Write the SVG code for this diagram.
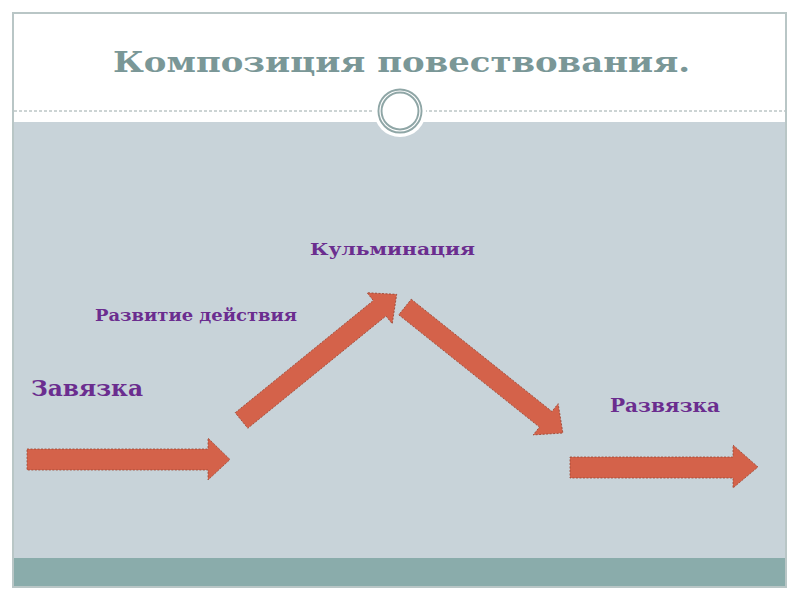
<svg xmlns="http://www.w3.org/2000/svg" width="800" height="600" viewBox="0 0 800 600">
<defs>
<style>
.lbl{font-family:"DejaVu Serif","Liberation Serif",serif;font-weight:bold;fill:#6b2d8f}
.title{font-family:"DejaVu Serif","Liberation Serif",serif;font-weight:bold;fill:#7a9797;font-size:28px}
.arrow{fill:#d4624a;stroke:#9c4634;stroke-width:0.8;stroke-dasharray:2 1.5}
</style>
</defs>
<rect width="800" height="600" fill="#ffffff"/>
<rect x="13" y="122" width="773" height="436" fill="#c8d3d9"/>
<rect x="13" y="558" width="773" height="29" fill="#8aacab"/>
<rect x="13" y="13" width="773" height="574" fill="none" stroke="#b9c6c6" stroke-width="2"/>
<line x1="14" y1="111" x2="785" y2="111" stroke="#9aa9a9" stroke-width="1" stroke-dasharray="3 2"/>
<circle cx="400" cy="111" r="26" fill="#ffffff"/>
<circle cx="400" cy="111" r="20" fill="#ffffff" stroke="#8fa6a6" stroke-width="5"/>
<circle cx="400" cy="111" r="20" fill="none" stroke="#ffffff" stroke-width="1.2"/>
<g id="title"><text class="title" x="113" y="72" textLength="577" lengthAdjust="spacingAndGlyphs">Композиция повествования.</text></g>
<g id="connectors">
<polygon class="arrow" points="27,449 208,449 208,438 230,459.5 208,480 208,470 27,470"/>
<polygon class="arrow" transform="translate(241.5,420.5) rotate(-39.1)" points="0,-10 178,-10 178,-20 200,0 178,20 178,10 0,10"/>
<polygon class="arrow" transform="translate(405,307) rotate(38.6)" points="0,-10 180,-10 180,-20 202,0 180,20 180,10 0,10"/>
<polygon class="arrow" points="570,457 733,457 733,445 758,467 733,488 733,478 570,478"/>
</g>
<g id="node-zavyazka"><text class="lbl" x="31" y="396" font-size="23" textLength="112" lengthAdjust="spacingAndGlyphs">Завязка</text></g>
<g id="node-razvitie"><text class="lbl" x="95" y="321" font-size="17" textLength="202" lengthAdjust="spacingAndGlyphs">Развитие действия</text></g>
<g id="node-kulminatsiya"><text class="lbl" x="310" y="255" font-size="17" textLength="165" lengthAdjust="spacingAndGlyphs">Кульминация</text></g>
<g id="node-razvyazka"><text class="lbl" x="610" y="412" font-size="18" textLength="110" lengthAdjust="spacingAndGlyphs">Развязка</text></g>
</svg>
